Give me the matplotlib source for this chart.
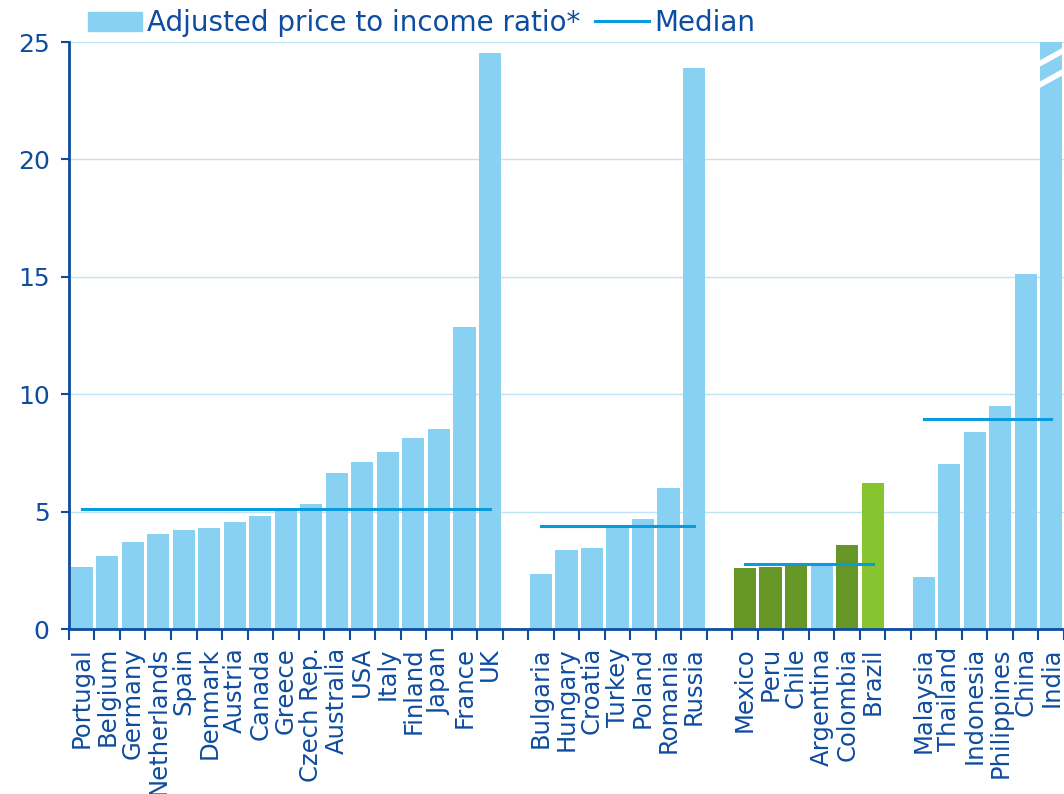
import numpy as np
import matplotlib.pyplot as plt
from matplotlib.patches import Patch
from matplotlib.lines import Line2D

# Valores (ratio precio/ingreso ajustado)
advanced = ['Portugal', 'Belgium', 'Germany', 'Netherlands', 'Spain', 'Denmark',
            'Austria', 'Canada', 'Greece', 'Czech Rep.', 'Australia', 'USA',
            'Italy', 'Finland', 'Japan', 'France', 'UK']
advanced_vals = [2.62, 3.13, 3.70, 4.06, 4.22, 4.29, 4.56, 4.83, 5.08, 5.34,
                 6.63, 7.10, 7.53, 8.15, 8.50, 12.85, 24.53]

emerg_eu = ['Bulgaria', 'Hungary', 'Croatia', 'Turkey', 'Poland', 'Romania', 'Russia']
emerg_eu_vals = [2.33, 3.38, 3.47, 4.37, 4.69, 6.00, 23.90]

latam = ['Mexico', 'Peru', 'Chile', 'Argentina', 'Colombia', 'Brazil']
latam_vals = [2.61, 2.66, 2.74, 2.72, 3.59, 6.20]

asia = ['Malaysia', 'Thailand', 'Indonesia', 'Philippines', 'China', 'India']
asia_vals = [2.23, 7.03, 8.39, 9.50, 15.10, 30.0]

medians = [5.1, 4.4, 2.75, 8.93]

light_blue = '#89D1F3'
dark_green = '#659626'
light_green = '#86C52F'
median_c = '#0A9BDF'
navy = '#0D4C9F'
grid_c = '#BFE4F6'

latam_colors = [dark_green, dark_green, dark_green, light_blue, dark_green, light_green]

groups = [(advanced, advanced_vals, [light_blue] * len(advanced)),
          (emerg_eu, emerg_eu_vals, [light_blue] * len(emerg_eu)),
          (latam, latam_vals, latam_colors),
          (asia, asia_vals, [light_blue] * len(asia))]

fig = plt.figure(figsize=(10.64, 7.94), dpi=100)
ax = fig.add_axes([0.0648, 0.2078, 0.9352, 0.7393])

pos = 0
centers, labels = [], []
for (names, vals, cols), med in zip(groups, medians):
    x = np.arange(pos, pos + len(names))
    ax.bar(x, vals, width=0.87, color=cols, zorder=2)
    ax.plot([x[0], x[-1]], [med, med], color=median_c, lw=2.2, zorder=3)
    centers.extend(x)
    labels.extend(names)
    pos += len(names) + 1

# marcas de corte en la barra de India
xi = centers[-1]
for y0 in [23.15, 24.05]:
    ax.plot([xi - 0.5, xi + 0.5], [y0, y0 + 0.6], color='white', lw=4,
            zorder=4, solid_capstyle='butt', clip_on=True)

ax.set_ylim(0, 25)
ax.set_xlim(-0.5, 38.32)
ax.set_yticks([0, 5, 10, 15, 20, 25])
ax.yaxis.grid(True, color=grid_c, lw=1, zorder=0)
ax.set_axisbelow(True)

ax.set_xticks(centers)
ax.set_xticklabels(labels, rotation=90, va='top', ha='center')
ax.set_xticks(np.arange(-0.5, 39, 1), minor=True)
ax.tick_params(axis='x', which='major', length=0, pad=13, labelsize=17.5, labelcolor=navy)
ax.tick_params(axis='x', which='minor', length=8, width=1.5, color=navy, direction='out')
ax.tick_params(axis='y', length=6, width=1.5, color=navy, labelsize=18, labelcolor=navy, pad=8)

for s in ['top', 'right']:
    ax.spines[s].set_visible(False)
for s in ['left', 'bottom']:
    ax.spines[s].set_color(navy)
    ax.spines[s].set_linewidth(2)

handles = [Patch(color=light_blue), Line2D([], [], color=median_c, lw=2.2)]
fig.legend(handles, ['Adjusted price to income ratio*', 'Median'],
           loc='upper left', bbox_to_anchor=(0.059, 1.02), ncol=2, frameon=False,
           prop={'family': 'DejaVu Sans', 'size': 20},
           labelcolor=navy, handlelength=1.95, handletextpad=0.2, columnspacing=0.5)

fig.savefig('out.png', dpi=100)
